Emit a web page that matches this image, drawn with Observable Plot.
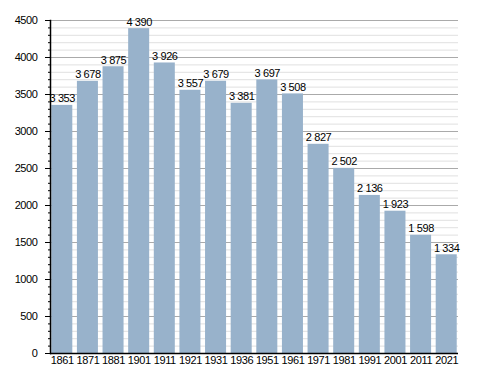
<!DOCTYPE html>
<html>
<head>
<meta charset="utf-8">
<script src="https://cdn.jsdelivr.net/npm/d3@7"></script>
<script src="https://cdn.jsdelivr.net/npm/@observablehq/plot@0.6"></script>
<style>
  html, body { margin: 0; padding: 0; background: #fff; }
  svg text { letter-spacing: -0.4px; }
</style>
</head>
<body>
<div id="chart"></div>
<script>
const years = ["1861","1871","1881","1901","1911","1921","1931","1936","1951","1961","1971","1981","1991","2001","2011","2021"];
const population = [3353, 3678, 3875, 4390, 3926, 3557, 3679, 3381, 3697, 3508, 2827, 2502, 2136, 1923, 1598, 1334];
const majorTicks = [0, 500, 1000, 1500, 2000, 2500, 3000, 3500, 4000, 4500];
const minorTicks = d3.range(0, 4501, 100);

const data = years.map((year, i) => ({year, pop: population[i]}));
const fmt = d3.formatLocale({decimal: ",", thousands: "\u00a0", grouping: [3], currency: ["", ""]}).format(",d");

const chart = Plot.plot({
  width: 488,
  height: 373,
  marginLeft: 50,
  marginRight: 30,
  marginTop: 20,
  marginBottom: 20,
  style: {fontFamily: "'Liberation Sans', Arial, sans-serif", fontSize: "11px", color: "#000", background: "#fff"},
  x: {domain: years, paddingInner: 0.18, paddingOuter: 0.05, round: false, label: null},
  y: {domain: [0, 4500], label: null},
  marks: [
    Plot.ruleY(minorTicks, {stroke: "#e0e0e0", strokeWidth: 1}),
    Plot.ruleY(majorTicks, {stroke: "#aaaaaa", strokeWidth: 1}),
    Plot.barY(data, {x: "year", y: "pop", fill: "#98b2cb"}),
    Plot.text(data, {x: "year", y: "pop", text: d => fmt(d.pop), dy: -3, lineAnchor: "bottom", fontSize: 11, fill: "#000"}),
    Plot.axisY(minorTicks, {tickSize: 2, tickFormat: () => "", stroke: "#000"}),
    Plot.axisY(majorTicks, {tickSize: 5, tickPadding: 8, tickFormat: d => String(d), fontSize: 11, stroke: "#000"}),
    Plot.axisX({tickSize: 0, tickPadding: 3, fontSize: 11}),
    Plot.ruleY([0], {stroke: "#000", strokeWidth: 1.5}),
    Plot.frame({anchor: "left", stroke: "#000", strokeWidth: 1.5})
  ]
});
document.getElementById("chart").appendChild(chart);
</script>
</body>
</html>
